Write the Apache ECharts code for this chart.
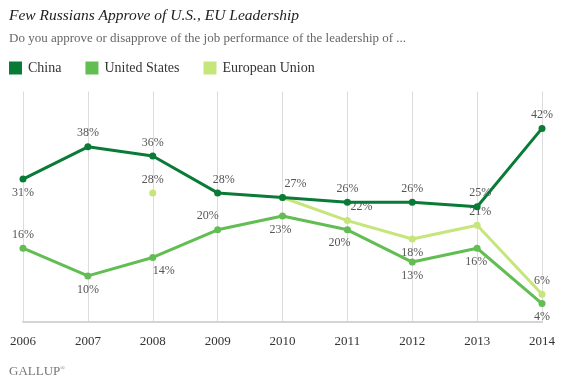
<!DOCTYPE html>
<html><head><meta charset="utf-8">
<script src="https://cdn.jsdelivr.net/npm/echarts@6/dist/echarts.min.js"></script>
<style>html,body{margin:0;padding:0;background:#fff}#c{width:564px;height:384px}</style>
</head><body><div id="c"></div>
<script>
const years = ['2006','2007','2008','2009','2010','2011','2012','2013','2014'];
const china = [31, 38, 36, 28, 27, 26, 26, 25, 42];
const unitedStates = [16, 10, 14, 20, 23, 20, 13, 16, 4];
const europeanUnion = [null, null, 28, null, 27, 22, 18, 21, 6];
const seriesNames = ['China', 'United States', 'European Union'];

const colors = ['#0a7a37', '#62bd52', '#c6e57a'];
const serif = "'Liberation Serif', 'DejaVu Serif', serif";

// label placement per point: [position, dx]
const chinaLab = [['bottom',0],['top',0],['top',0],['top',6],['top',13],['top',0],['top',0],['top',3],['top',0]];
const usLab = [['top',0],['bottom',0],['bottom',11],['top',-10],['bottom',-2],['bottom',-8],['bottom',0],['bottom',-1],['bottom',0]];
const euLab = [null,null,['top',0],null,null,['top',14],['bottom',0],['top',3],['top',0]];

function build(vals, labs) {
  return vals.map((v, i) => {
    if (v === null) return null;
    const l = labs[i];
    return {
      value: v,
      label: l ? { show: true, position: l[0], offset: [l[1], 0] } : { show: false }
    };
  });
}

const labelStyle = { color: '#555', fontFamily: serif, fontSize: 12, formatter: p => p.value + '%' };

function line(name, vals, labs, color, z) {
  return {
    name, type: 'line', data: build(vals, labs), z,
    symbol: 'circle', symbolSize: 7, showSymbol: true,
    connectNulls: false,
    lineStyle: { color, width: 3 },
    itemStyle: { color },
    label: Object.assign({ show: true, distance: 4 }, labelStyle),
    emphasis: { disabled: true },
    animation: false
  };
}

const chart = echarts.init(document.getElementById('c'));
chart.setOption({
  animation: false,
  title: {
    text: 'Few Russians Approve of U.S., EU Leadership',
    subtext: 'Do you approve or disapprove of the job performance of the leadership of ...',
    left: 4, top: 3, itemGap: 8,
    textStyle: { fontFamily: serif, fontStyle: 'italic', fontWeight: 'normal', fontSize: 15.5, color: '#222' },
    subtextStyle: { fontFamily: serif, fontSize: 13, color: '#666' }
  },
  legend: {
    data: seriesNames, left: 4, top: 56, itemWidth: 13, itemHeight: 13, itemGap: 24,
    icon: 'rect', selectedMode: false,
    textStyle: { fontFamily: serif, fontSize: 14, color: '#333', padding: [0, 0, 0, 1] }
  },
  grid: { left: 23, right: 22, top: 91.5, bottom: 62, containLabel: false },
  xAxis: {
    type: 'category', data: years, boundaryGap: false,
    axisLine: { lineStyle: { color: '#d4d4d4', width: 2 } },
    axisTick: { show: false },
    axisLabel: { color: '#333', fontFamily: serif, fontSize: 13, margin: 13 },
    splitLine: { show: true, lineStyle: { color: '#dcdcdc', width: 1 } }
  },
  yAxis: {
    type: 'value', min: 0, max: 50, interval: 10, show: false,
    splitLine: { show: false }
  },
  series: [
    line(seriesNames[0], china, chinaLab, colors[0], 4),
    line(seriesNames[1], unitedStates, usLab, colors[1], 3),
    line(seriesNames[2], europeanUnion, euLab, colors[2], 2)
  ],
  graphic: [{
    type: 'text', left: 9, top: 365,
    style: {
      text: '{a|GALLUP}{b|®}',
      rich: {
        a: { fontFamily: serif, fontSize: 13, fill: '#777' },
        b: { fontFamily: serif, fontSize: 6, fill: '#777', verticalAlign: 'top', padding: [0, 0, 6, 0] }
      }
    }
  }]
});
</script></body></html>
